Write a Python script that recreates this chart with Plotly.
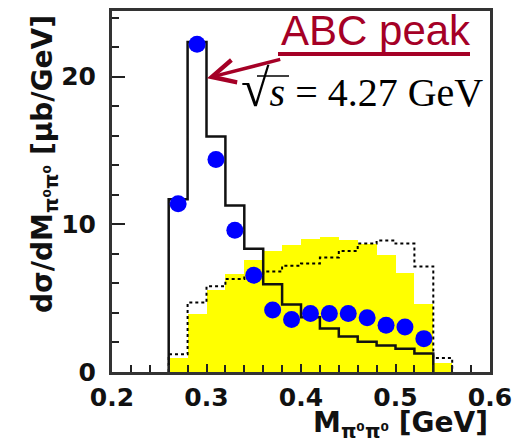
import plotly.graph_objects as go

# ---- data ----
bin_lo = [0.26, 0.28, 0.30, 0.32, 0.34, 0.36, 0.38, 0.40, 0.42, 0.44, 0.46, 0.48, 0.50, 0.52, 0.54]
bin_width = 0.02

# yellow filled histogram (15 bins, 0.26-0.56)
yellow_vals = [0.97, 3.96, 5.57, 6.65, 7.58, 8.2, 8.6, 9.0, 9.15, 8.95, 8.65, 7.9, 6.7, 4.6, 0.6]
# dotted histogram (15 bins, 0.26-0.56)
dotted_vals = [1.2, 4.7, 5.8, 6.3, 6.55, 6.8, 7.2, 7.35, 7.75, 8.2, 8.7, 8.9, 8.7, 7.15, 0.95]
# solid histogram (14 bins, 0.26-0.54)
solid_vals = [11.7, 22.35, 15.95, 11.27, 8.35, 5.95, 4.57, 3.7, 2.95, 2.4, 2.05, 1.8, 1.58, 1.25]
# data points (bin centres 0.27-0.53)
data_x = [0.27, 0.29, 0.31, 0.33, 0.35, 0.37, 0.39, 0.41, 0.43, 0.45, 0.47, 0.49, 0.51, 0.53]
data_y = [11.4, 22.2, 14.4, 9.6, 6.55, 4.2, 3.55, 3.96, 3.96, 3.96, 3.67, 3.17, 3.05, 2.26]

x_ticks = [0.2, 0.3, 0.4, 0.5, 0.6]
x_ticklabels = ["0.2", "0.3", "0.4", "0.5", "0.6"]
y_ticks = [0, 10, 20]
y_ticklabels = ["0", "10", "20"]


def step_xy(vals):
    n = len(vals)
    lo = bin_lo[:n]
    hi_last = lo[-1] + bin_width
    xs = [lo[0]] + lo + [hi_last, hi_last]
    ys = [0] + vals + [vals[-1], 0]
    return xs, ys


fig = go.Figure()

yc = [b + bin_width / 2 for b in bin_lo[:len(yellow_vals)]]
fig.add_trace(go.Bar(x=yc, y=yellow_vals, width=bin_width,
                     marker=dict(color="#ffff00", line=dict(width=0)),
                     showlegend=False, hoverinfo="skip"))

dx, dy = step_xy(dotted_vals)
fig.add_trace(go.Scatter(x=dx, y=dy, mode="lines", line_shape="hv",
                         line=dict(color="#000000", width=2, dash="dot"),
                         showlegend=False, hoverinfo="skip"))

sx, sy = step_xy(solid_vals)
fig.add_trace(go.Scatter(x=sx, y=sy, mode="lines", line_shape="hv",
                         line=dict(color="#111111", width=2.5),
                         showlegend=False, hoverinfo="skip"))

fig.add_trace(go.Scatter(x=data_x, y=data_y, mode="markers",
                         marker=dict(color="#0000ff", size=17, symbol="circle"),
                         showlegend=False))

tickfont = dict(family="DejaVu Sans", size=25, color="#111111", weight="bold")

# the page body has an 8px margin; margins compensate so the plot area
# sits at x 112-490, y 11-372 in the window
fig.update_layout(
    width=529, height=444,
    margin=dict(l=104, r=47, t=3, b=80),
    paper_bgcolor="white", plot_bgcolor="white",
    bargap=0,
    xaxis=dict(range=[0.2, 0.6], tickvals=x_ticks, ticktext=x_ticklabels,
               automargin=False,
               ticks="inside", ticklen=8, tickwidth=2, tickcolor="#222",
               minor=dict(dtick=0.02, tick0=0.2, ticks="inside", ticklen=7, tickwidth=2, tickcolor="#222"),
               showgrid=False, zeroline=False, showline=True, linewidth=3,
               linecolor="#333333", mirror=True, tickfont=tickfont,
               ticklabelstandoff=1),
    yaxis=dict(range=[0, 24.45], tickvals=y_ticks, ticktext=y_ticklabels,
               automargin=False,
               ticks="inside", ticklen=13, tickwidth=2, tickcolor="#222",
               minor=dict(dtick=2, tick0=0, ticks="inside", ticklen=7, tickwidth=2, tickcolor="#222"),
               showgrid=False, zeroline=False, showline=True, linewidth=3,
               linecolor="#333333", mirror=True, tickfont=tickfont,
               ticklabelstandoff=8),
)

titlefont = dict(family="DejaVu Sans", size=28, color="#111111", weight="bold")
fig.add_annotation(text="M<sub>π⁰π⁰</sub> [GeV]", xref="paper", yref="paper",
                   x=1.0, y=-0.146, xanchor="right", yanchor="middle",
                   showarrow=False, font=titlefont)
fig.add_annotation(text="dσ/dM<sub>π⁰π⁰</sub> [μb/GeV]", xref="paper", yref="paper",
                   x=-0.18, y=0.576, xanchor="center", yanchor="middle", textangle=-90,
                   showarrow=False, font=titlefont)

red = "#a50026"
fig.add_annotation(text="ABC peak", xref="paper", yref="paper",
                   x=0.4418, y=0.946, xanchor="left", yanchor="middle",
                   showarrow=False, font=dict(family="Liberation Sans", size=42, color=red))
fig.add_shape(type="line", xref="paper", yref="paper",
              x0=(278 - 112) / 378, x1=(470 - 112) / 378,
              y0=(372 - 54) / 361, y1=(372 - 54) / 361,
              line=dict(color=red, width=4))
fig.add_annotation(text="", x=0.3005, y=19.9, ax=0.3796, ay=21.2,
                   xref="x", yref="y", axref="x", ayref="y",
                   showarrow=True, arrowhead=5, arrowsize=1.3, arrowwidth=3.5,
                   arrowcolor=red, standoff=0)
fig.add_annotation(text="<span style='font-size:52px'>√</span><i>s</i> = 4.27 GeV",
                   xref="paper", yref="paper",
                   x=0.3360, y=0.785, xanchor="left", yanchor="middle",
                   showarrow=False, font=dict(family="Liberation Serif", size=40, color="#000000"))
# vinculum of the square root
fig.add_shape(type="line", xref="paper", yref="paper",
              x0=(257 - 112) / 378, x1=(289 - 112) / 378,
              y0=(372 - 76) / 361, y1=(372 - 76) / 361,
              line=dict(color="#000000", width=1.5))

fig.write_html("out.html")
